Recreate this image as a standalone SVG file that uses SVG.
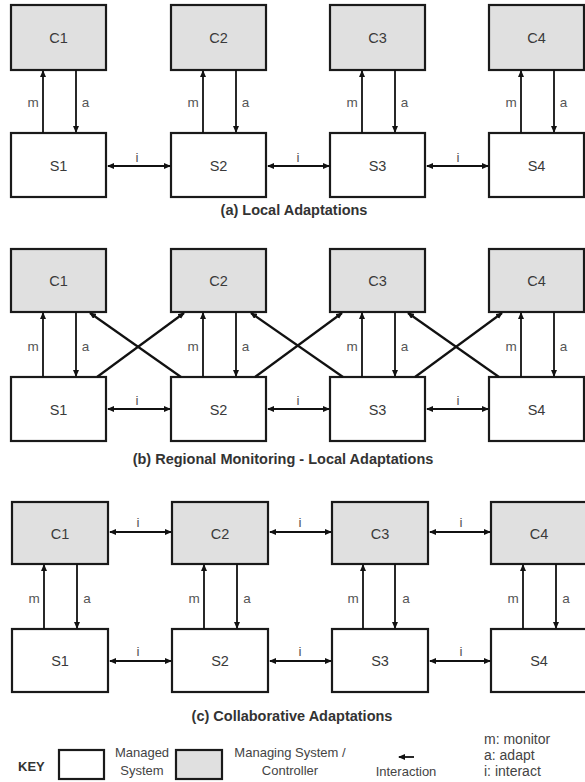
<svg xmlns="http://www.w3.org/2000/svg" width="585" height="782" viewBox="0 0 585 782">
<style>
.box{stroke:#1a1a1a;stroke-width:2.2}
.s{fill:#ffffff}
.c{fill:#e0e0e0}
.lbl{font-family:"Liberation Sans",Arial,sans-serif;font-size:14.5px;fill:#3a3a3a;text-anchor:middle}
.sm{font-family:"Liberation Sans",Arial,sans-serif;font-size:13.5px;fill:#555;text-anchor:middle}
.ttl{font-family:"Liberation Sans",Arial,sans-serif;font-size:14.5px;font-weight:bold;fill:#333;text-anchor:middle}
.key{font-family:"Liberation Sans",Arial,sans-serif;font-size:13px;fill:#444}
.leg{font-family:"Liberation Sans",Arial,sans-serif;font-size:14px;fill:#444}
.ln{stroke:#111;stroke-width:1.8;fill:none}
.d{stroke:#111;stroke-width:2.2;fill:none}
.one{marker-end:url(#ah)}
.two{marker-start:url(#ah);marker-end:url(#ah)}
</style>
<defs>
<marker id="ah" markerUnits="userSpaceOnUse" markerWidth="7" markerHeight="6" refX="6" refY="3" orient="auto-start-reverse">
<path d="M0,0 L7,3 L0,6 z" fill="#111"/>
</marker>
</defs>
<rect width="585" height="782" fill="#fff"/>

<!-- Panel (a) -->
<g id="a-C1"><rect class="box c" x="11" y="5" width="95" height="65"/><text class="lbl" x="58.5" y="43">C1</text></g>
<g id="a-C2"><rect class="box c" x="171" y="5" width="95" height="65"/><text class="lbl" x="218.5" y="43">C2</text></g>
<g id="a-C3"><rect class="box c" x="330" y="5" width="95" height="65"/><text class="lbl" x="377.5" y="43">C3</text></g>
<g id="a-C4"><rect class="box c" x="489" y="5" width="95" height="65"/><text class="lbl" x="536.5" y="43">C4</text></g>
<g id="a-S1"><rect class="box s" x="11" y="133" width="95" height="64"/><text class="lbl" x="58.5" y="171">S1</text></g>
<g id="a-S2"><rect class="box s" x="171" y="133" width="95" height="64"/><text class="lbl" x="218.5" y="171">S2</text></g>
<g id="a-S3"><rect class="box s" x="330" y="133" width="95" height="64"/><text class="lbl" x="377.5" y="171">S3</text></g>
<g id="a-S4"><rect class="box s" x="489" y="133" width="95" height="64"/><text class="lbl" x="536.5" y="171">S4</text></g>

<g id="a-connectors">
<line class="ln one" x1="43" y1="133" x2="43" y2="71"/>
<line class="ln one" x1="76" y1="70" x2="76" y2="132"/>
<line class="ln one" x1="203" y1="133" x2="203" y2="71"/>
<line class="ln one" x1="236" y1="70" x2="236" y2="132"/>
<line class="ln one" x1="362" y1="133" x2="362" y2="71"/>
<line class="ln one" x1="395" y1="70" x2="395" y2="132"/>
<line class="ln one" x1="521" y1="133" x2="521" y2="71"/>
<line class="ln one" x1="554" y1="70" x2="554" y2="132"/>
<line class="ln two" x1="108" y1="166" x2="170" y2="166"/>
<line class="ln two" x1="268" y1="166" x2="329" y2="166"/>
<line class="ln two" x1="427" y1="166" x2="488" y2="166"/>
</g>
<g id="a-labels">
<text class="sm" x="33" y="107">m</text><text class="sm" x="85.5" y="107">a</text>
<text class="sm" x="193" y="107">m</text><text class="sm" x="245.5" y="107">a</text>
<text class="sm" x="352" y="107">m</text><text class="sm" x="404.5" y="107">a</text>
<text class="sm" x="511" y="107">m</text><text class="sm" x="563.5" y="107">a</text>
<text class="sm" x="137" y="162">i</text><text class="sm" x="298" y="162">i</text><text class="sm" x="458" y="162">i</text>
<text class="ttl" x="294" y="215">(a) Local Adaptations</text>
</g>

<!-- Panel (b) -->
<g id="b-C1"><rect class="box c" x="11" y="249" width="95" height="63"/><text class="lbl" x="58.5" y="286">C1</text></g>
<g id="b-C2"><rect class="box c" x="171" y="249" width="95" height="63"/><text class="lbl" x="218.5" y="286">C2</text></g>
<g id="b-C3"><rect class="box c" x="330" y="249" width="95" height="63"/><text class="lbl" x="377.5" y="286">C3</text></g>
<g id="b-C4"><rect class="box c" x="489" y="249" width="95" height="63"/><text class="lbl" x="536.5" y="286">C4</text></g>
<g id="b-S1"><rect class="box s" x="11" y="377" width="95" height="64"/><text class="lbl" x="58.5" y="415">S1</text></g>
<g id="b-S2"><rect class="box s" x="171" y="377" width="95" height="64"/><text class="lbl" x="218.5" y="415">S2</text></g>
<g id="b-S3"><rect class="box s" x="330" y="377" width="95" height="64"/><text class="lbl" x="377.5" y="415">S3</text></g>
<g id="b-S4"><rect class="box s" x="489" y="377" width="95" height="64"/><text class="lbl" x="536.5" y="415">S4</text></g>

<g id="b-connectors">
<line class="ln one" x1="43" y1="377" x2="43" y2="313"/>
<line class="ln one" x1="76" y1="312" x2="76" y2="376"/>
<line class="ln one" x1="203" y1="377" x2="203" y2="313"/>
<line class="ln one" x1="236" y1="312" x2="236" y2="376"/>
<line class="ln one" x1="362" y1="377" x2="362" y2="313"/>
<line class="ln one" x1="395" y1="312" x2="395" y2="376"/>
<line class="ln one" x1="521" y1="377" x2="521" y2="313"/>
<line class="ln one" x1="554" y1="312" x2="554" y2="376"/>
<line class="d one" x1="97" y1="377" x2="184" y2="313"/>
<line class="d one" x1="181" y1="377" x2="90" y2="313"/>
<line class="d one" x1="255" y1="377" x2="342" y2="313"/>
<line class="d one" x1="343" y1="377" x2="251" y2="313"/>
<line class="d one" x1="415" y1="377" x2="502" y2="313"/>
<line class="d one" x1="499" y1="377" x2="408" y2="313"/>
<line class="ln two" x1="108" y1="409" x2="170" y2="409"/>
<line class="ln two" x1="268" y1="409" x2="329" y2="409"/>
<line class="ln two" x1="427" y1="409" x2="488" y2="409"/>
</g>
<g id="b-labels">
<text class="sm" x="33" y="351">m</text><text class="sm" x="85.5" y="351">a</text>
<text class="sm" x="193" y="351">m</text><text class="sm" x="245.5" y="351">a</text>
<text class="sm" x="352" y="351">m</text><text class="sm" x="404.5" y="351">a</text>
<text class="sm" x="511" y="351">m</text><text class="sm" x="563.5" y="351">a</text>
<text class="sm" x="137" y="405">i</text><text class="sm" x="298" y="405">i</text><text class="sm" x="458" y="405">i</text>
<text class="ttl" x="283" y="464">(b) Regional Monitoring - Local Adaptations</text>
</g>

<!-- Panel (c) -->
<g id="c-C1"><rect class="box c" x="12" y="502" width="96" height="62"/><text class="lbl" x="60" y="539">C1</text></g>
<g id="c-C2"><rect class="box c" x="172" y="502" width="96" height="62"/><text class="lbl" x="220" y="539">C2</text></g>
<g id="c-C3"><rect class="box c" x="332" y="502" width="96" height="62"/><text class="lbl" x="380" y="539">C3</text></g>
<g id="c-C4"><rect class="box c" x="491" y="502" width="96" height="62"/><text class="lbl" x="539" y="539">C4</text></g>
<g id="c-S1"><rect class="box s" x="12" y="629" width="96" height="63"/><text class="lbl" x="60" y="666">S1</text></g>
<g id="c-S2"><rect class="box s" x="172" y="629" width="96" height="63"/><text class="lbl" x="220" y="666">S2</text></g>
<g id="c-S3"><rect class="box s" x="332" y="629" width="96" height="63"/><text class="lbl" x="380" y="666">S3</text></g>
<g id="c-S4"><rect class="box s" x="491" y="629" width="96" height="63"/><text class="lbl" x="539" y="666">S4</text></g>

<g id="c-connectors">
<line class="ln one" x1="44" y1="629" x2="44" y2="565"/>
<line class="ln one" x1="77" y1="564" x2="77" y2="628"/>
<line class="ln one" x1="204" y1="629" x2="204" y2="565"/>
<line class="ln one" x1="237" y1="564" x2="237" y2="628"/>
<line class="ln one" x1="363" y1="629" x2="363" y2="565"/>
<line class="ln one" x1="395" y1="564" x2="395" y2="628"/>
<line class="ln one" x1="523" y1="629" x2="523" y2="565"/>
<line class="ln one" x1="556" y1="564" x2="556" y2="628"/>
<line class="ln two" x1="110" y1="532" x2="171" y2="532"/>
<line class="ln two" x1="270" y1="532" x2="331" y2="532"/>
<line class="ln two" x1="430" y1="532" x2="490" y2="532"/>
<line class="ln two" x1="110" y1="661" x2="171" y2="661"/>
<line class="ln two" x1="270" y1="661" x2="331" y2="661"/>
<line class="ln two" x1="430" y1="661" x2="490" y2="661"/>
</g>
<g id="c-labels">
<text class="sm" x="34" y="603">m</text><text class="sm" x="87" y="603">a</text>
<text class="sm" x="194" y="603">m</text><text class="sm" x="247" y="603">a</text>
<text class="sm" x="353" y="603">m</text><text class="sm" x="406" y="603">a</text>
<text class="sm" x="513" y="603">m</text><text class="sm" x="566" y="603">a</text>
<text class="sm" x="138" y="527">i</text><text class="sm" x="300" y="527">i</text><text class="sm" x="461" y="527">i</text>
<text class="sm" x="138" y="656">i</text><text class="sm" x="300" y="656">i</text><text class="sm" x="461" y="656">i</text>
<text class="ttl" x="292" y="721">(c) Collaborative Adaptations</text>
</g>

<!-- Key -->
<g id="key">
<text x="18" y="771" font-family="Liberation Sans, Arial, sans-serif" font-size="13" font-weight="bold" fill="#333">KEY</text>
<rect class="box s" x="59" y="750" width="45" height="29"/>
<text class="key" x="142" y="757" text-anchor="middle">Managed</text>
<text class="key" x="142" y="775" text-anchor="middle">System</text>
<rect class="box c" x="176" y="750" width="46" height="29"/>
<text class="key" x="290" y="757" text-anchor="middle">Managing System /</text>
<text class="key" x="290" y="775" text-anchor="middle">Controller</text>
<line class="ln one" x1="414" y1="757" x2="399" y2="757"/>
<text class="key" x="406" y="776" text-anchor="middle">Interaction</text>
<text class="leg" x="484" y="744">m: monitor</text>
<text class="leg" x="484" y="760">a: adapt</text>
<text class="leg" x="484" y="776">i: interact</text>
</g>
</svg>
